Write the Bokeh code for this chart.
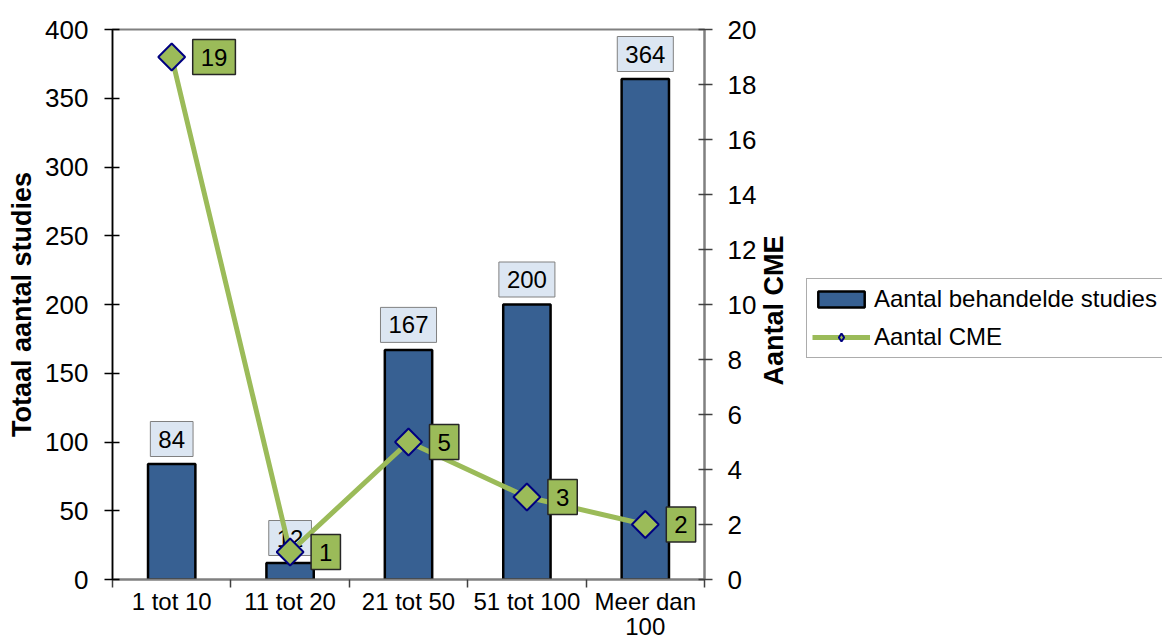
import math
import numpy as np
from bokeh.plotting import figure
from bokeh.layouts import row
from bokeh.models import (ColumnDataSource, LinearAxis, Range1d, FixedTicker,
                          Label, Legend, LegendItem)
from bokeh.embed import file_html
from bokeh.resources import INLINE

# Data
categories = ["1 tot 10", "11 tot 20", "21 tot 50", "51 tot 100", "Meer dan\n100"]
studies = [84, 12, 167, 200, 364]          # Aantal behandelde studies (left axis)
cme = [19, 1, 5, 3, 2]                      # Aantal CME (right axis)
left_ticks = [0, 50, 100, 150, 200, 250, 300, 350, 400]
right_ticks = [0, 2, 4, 6, 8, 10, 12, 14, 16, 18, 20]

FONT = "Liberation Sans"
BAR_BLUE = "#376092"
GREEN = "#9BBB59"
BAR_STYLE = dict(fill_color=BAR_BLUE, line_color="black", line_width=2.5)
LINE_STYLE = dict(line_color=GREEN, line_width=5)
MARKER_FILL = dict(fill_color=GREEN, line_color="#000080", line_width=2)

x = np.arange(len(categories)) + 0.5
bar_src = ColumnDataSource(dict(x=x, top=studies))
cme_src = ColumnDataSource(dict(x=x, y=cme))

# ---- main chart -------------------------------------------------------------
p = figure(width=760, height=643, output_backend="svg", toolbar_location=None,
           x_range=Range1d(0, len(categories)), y_range=Range1d(0, 400),
           min_border_left=112, min_border_right=56,
           min_border_top=29, min_border_bottom=64)
p.extra_y_ranges = {"cme": Range1d(0, 20)}
p.xgrid.visible = False
p.ygrid.visible = False
p.outline_line_color = "#808080"
p.outline_line_width = 2
p.background_fill_color = "white"
p.border_fill_color = "white"

# x axis: labels at category centres, small ticks at category boundaries
xa = p.xaxis[0]
xa.ticker = FixedTicker(ticks=list(x), minor_ticks=list(range(len(categories) + 1)))
xa.major_label_overrides = {float(xi): c for xi, c in zip(x, categories)}
xa.major_tick_out = 0
xa.major_tick_in = 0
xa.minor_tick_out = 8
xa.minor_tick_in = 0
xa.minor_tick_line_color = "#404040"
xa.minor_tick_line_width = 1.5
xa.axis_line_color = "#808080"
xa.axis_line_width = 2
xa.major_label_text_font = FONT
xa.major_label_text_font_size = "24px"
xa.major_label_text_color = "black"
xa.major_label_text_line_height = 0.95
xa.major_label_standoff = 0

# left axis
ya = p.yaxis[0]
ya.ticker = FixedTicker(ticks=left_ticks)
ya.major_tick_out = 8
ya.major_tick_in = 7
ya.minor_tick_out = 0
ya.minor_tick_in = 0
ya.major_tick_line_color = "black"
ya.major_tick_line_width = 1.5
ya.axis_line_color = "black"
ya.axis_line_width = 1.5
ya.major_label_text_font = FONT
ya.major_label_text_font_size = "26px"
ya.major_label_text_color = "black"
ya.major_label_standoff = 16
ya.axis_label = "Totaal aantal studies"
ya.axis_label_text_font = FONT
ya.axis_label_text_font_size = "27px"
ya.axis_label_text_font_style = "bold"
ya.axis_label_text_color = "black"
ya.axis_label_standoff = 5

# right axis
ra = LinearAxis(y_range_name="cme", ticker=FixedTicker(ticks=right_ticks))
ra.major_tick_out = 8
ra.major_tick_in = 6
ra.minor_tick_out = 0
ra.minor_tick_in = 0
ra.major_tick_line_color = "#404040"
ra.major_tick_line_width = 1.5
ra.axis_line_color = "#808080"
ra.axis_line_width = 2
ra.major_label_text_font = FONT
ra.major_label_text_font_size = "26px"
ra.major_label_text_color = "black"
ra.major_label_standoff = 15
p.add_layout(ra, "right")

# bars
bars = p.vbar(x="x", top="top", bottom=0, width=0.40, source=bar_src, **BAR_STYLE)

# bar value boxes
for xi, v in zip(x, studies):
    p.add_layout(Label(x=float(xi), y=v, text=str(v), text_align="center",
                       text_baseline="middle", y_offset=25,
                       text_font=FONT, text_font_size="24px", text_color="black",
                       background_fill_color="#DCE6F2", border_line_color="#808080",
                       border_line_width=1, padding=(8, 9), level="underlay"))

# CME line with diamond markers (squares turned 45 degrees)
p.line("x", "y", source=cme_src, y_range_name="cme", **LINE_STYLE)
p.scatter("x", "y", source=cme_src, y_range_name="cme", marker="square",
          angle=math.pi / 4, size=19, **MARKER_FILL)

for xi, v in zip(x, cme):
    p.add_layout(Label(x=float(xi), y=v, y_range_name="cme", text=str(v),
                       text_align="left", text_baseline="middle", x_offset=21,
                       text_font=FONT, text_font_size="24px", text_color="black",
                       background_fill_color=GREEN, border_line_color="#262626",
                       border_line_width=1.5, padding=(8, 9)))

# ---- side panel: right axis title and legend --------------------------------
side = figure(width=402, height=643, output_backend="svg", toolbar_location=None,
              x_range=Range1d(0, 1), y_range=Range1d(0, 1),
              x_axis_location=None, y_axis_location=None,
              min_border=0, min_border_left=0, min_border_right=0,
              min_border_top=0, min_border_bottom=0)
side.xgrid.visible = False
side.ygrid.visible = False
side.outline_line_color = None
side.background_fill_color = "white"
side.border_fill_color = "white"

side.add_layout(Label(x=13, y=269, x_units="screen", y_units="screen",
                      text="Aantal CME", angle=math.pi / 2, text_align="center",
                      text_baseline="middle", text_font=FONT, text_font_size="27px",
                      text_font_style="bold", text_color="black"))

# legend swatches (renderers kept hidden; only their legend glyphs are shown)
leg_bars = side.vbar(x="x", top="top", bottom=0, width=0.40, source=bar_src,
                     visible=False, **BAR_STYLE)
leg_line = side.line("x", "y", source=cme_src, visible=False, **LINE_STYLE)
leg_pts = side.scatter("x", "y", source=cme_src, visible=False, marker="diamond",
                       size=19, **MARKER_FILL)

legend = Legend(items=[LegendItem(label="Aantal behandelde studies", renderers=[leg_bars]),
                       LegendItem(label="Aantal CME", renderers=[leg_line, leg_pts])],
                location=(46, 221), label_text_font=FONT, label_text_font_size="24px",
                label_text_color="black", glyph_width=58, glyph_height=20,
                label_height=30, label_standoff=4, padding=5, spacing=8, margin=0,
                border_line_color="#595959", border_line_width=1.5,
                background_fill_color="white", background_fill_alpha=1,
                inactive_fill_alpha=0, click_policy="none")
side.add_layout(legend)

layout = row(p, side, spacing=0)
open("out.html", "w").write(file_html(layout, INLINE))
